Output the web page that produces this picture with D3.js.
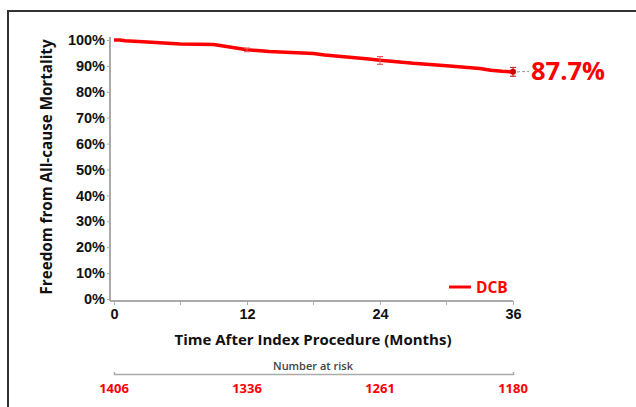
<!DOCTYPE html>
<html>
<head>
<meta charset="utf-8">
<script src="https://cdn.jsdelivr.net/npm/d3@7"></script>
<style>
    body { margin: 0; background: #fff; }
    svg { display: block; font-family: "Open Sans", "DejaVu Sans", sans-serif; }
</style>
</head>
<body>
<svg id="chart" width="636" height="407"></svg>
<script>
// KM estimate, months vs freedom from all-cause mortality (%)
let months = [0, 0.5, 1, 3, 6, 9, 12, 14, 16, 18, 19, 21, 23, 24, 27, 30, 33, 34, 35, 36];
let survival = [100, 100, 99.7, 99.2, 98.5, 98.3, 96.2, 95.6, 95.2, 94.8, 94.2, 93.4, 92.7, 92.2, 91.0, 90.1, 89.0, 88.3, 87.9, 87.7];

// error bars at landmark time points
let ciMonths = [12, 24, 36];
let ciLow = [95.5, 90.6, 86.0];
let ciHigh = [96.9, 93.6, 89.4];

let xTicks = [0, 12, 24, 36];
let xMinorTicks = [6, 18, 30];
let yTicks = [0, 10, 20, 30, 40, 50, 60, 70, 80, 90, 100];

let riskMonths = [0, 12, 24, 36];
let atRisk = [1406, 1336, 1261, 1180];

let finalLabel = '87.7%';
let seriesName = 'DCB';

const red = '#ff0000';

const svg = d3.select('#chart');

// outer frame (runs off the right and bottom edges)
svg.append('rect')
    .attr('x', 8).attr('y', 11)
    .attr('width', 700).attr('height', 500)
    .attr('fill', 'none')
    .attr('stroke', '#333')
    .attr('stroke-width', 2);

const x = d3.scaleLinear().domain([0, 36]).range([114, 513]);
const y = d3.scaleLinear().domain([0, 100]).range([299, 40]);

// y axis
const yAxis = svg.append('g')
    .attr('transform', 'translate(110,0)')
    .call(d3.axisLeft(y).tickValues(yTicks).tickSize(3).tickFormat(d => d + '%'));
yAxis.select('.domain').attr('stroke', '#aaa').attr('stroke-width', 2)
    .attr('d', 'M0,37V301');
yAxis.selectAll('.tick line').attr('stroke', '#aaa');
yAxis.selectAll('.tick text')
    .attr('x', -5)
    .attr('fill', '#111')
    .style('font-size', '14.5px')
    .style('font-weight', 'bold');

// x axis
const xAxis = svg.append('g')
    .attr('transform', 'translate(0,301)')
    .call(d3.axisBottom(x).tickValues(xTicks).tickSize(4).tickFormat(d3.format('d')));
xAxis.select('.domain').attr('stroke', '#aaa').attr('stroke-width', 2)
    .attr('d', 'M110,0H513');
xAxis.selectAll('.tick line').attr('stroke', '#aaa');
xAxis.selectAll('.tick text')
    .attr('y', 8)
    .attr('fill', '#111')
    .style('font-size', '14.5px')
    .style('font-weight', 'bold');

svg.append('g')
    .selectAll('line')
    .data(xMinorTicks)
    .join('line')
    .attr('x1', d => x(d)).attr('x2', d => x(d))
    .attr('y1', 301).attr('y2', 305)
    .attr('stroke', '#aaa');

// axis titles
svg.append('text')
    .attr('transform', 'translate(52,167) rotate(-90)')
    .attr('text-anchor', 'middle')
    .attr('fill', '#111')
    .style('font-size', '15.2px')
    .style('font-weight', 'bold')
    .text('Freedom from All-cause Mortality');

svg.append('text')
    .attr('x', 313).attr('y', 345)
    .attr('text-anchor', 'middle')
    .attr('fill', '#111')
    .style('font-size', '15px')
    .style('font-weight', 'bold')
    .text('Time After Index Procedure (Months)');

// survival curve
const line = d3.line()
    .x((d, i) => x(months[i]))
    .y(d => y(d));

svg.append('path')
    .datum(survival)
    .attr('d', line)
    .attr('fill', 'none')
    .attr('stroke', red)
    .attr('stroke-width', 3.5)
    .attr('stroke-linejoin', 'round');

// error bars
const ci = svg.append('g')
    .selectAll('g')
    .data(ciMonths)
    .join('g')
    .attr('stroke', (d, i) => i === 2 ? '#c03030' : '#e86060')
    .attr('stroke-width', 1.2);
ci.append('line')
    .attr('x1', d => x(d)).attr('x2', d => x(d))
    .attr('y1', (d, i) => y(ciLow[i])).attr('y2', (d, i) => y(ciHigh[i]));
ci.append('line')
    .attr('x1', d => x(d) - 3).attr('x2', d => x(d) + 3)
    .attr('y1', (d, i) => y(ciLow[i])).attr('y2', (d, i) => y(ciLow[i]));
ci.append('line')
    .attr('x1', d => x(d) - 3).attr('x2', d => x(d) + 3)
    .attr('y1', (d, i) => y(ciHigh[i])).attr('y2', (d, i) => y(ciHigh[i]));

// end marker + leader + label
const lastV = survival[survival.length - 1];
svg.append('circle')
    .attr('cx', x(36)).attr('cy', y(lastV))
    .attr('r', 3)
    .attr('fill', '#d00000');
svg.append('line')
    .attr('x1', x(36) + 4).attr('x2', x(36) + 16)
    .attr('y1', y(lastV)).attr('y2', y(lastV) - 0.5)
    .attr('stroke', '#999')
    .attr('stroke-dasharray', '3,2');
svg.append('text')
    .attr('x', 531).attr('y', y(lastV) + 8.5)
    .attr('fill', red)
    .style('font-size', '25.5px')
    .style('font-weight', 'bold')
    .text(finalLabel);

// legend
svg.append('line')
    .attr('x1', 449).attr('x2', 471)
    .attr('y1', 287).attr('y2', 287)
    .attr('stroke', red)
    .attr('stroke-width', 3);
svg.append('text')
    .attr('x', 476).attr('y', 292.5)
    .attr('fill', red)
    .style('font-size', '15.5px')
    .style('font-weight', 'bold')
    .text(seriesName);

// number at risk table
svg.append('text')
    .attr('x', 313).attr('y', 370)
    .attr('text-anchor', 'middle')
    .attr('fill', '#444')
    .style('font-size', '11px')
    .style('font-weight', '600')
    .text('Number at risk');

const riskAxis = svg.append('g')
    .attr('transform', 'translate(0,374)')
    .call(d3.axisTop(x).tickValues([0, 36]).tickSize(2).tickFormat(''));
riskAxis.select('.domain').attr('stroke', '#aaa').attr('stroke-width', 1.5);
riskAxis.selectAll('.tick line').attr('stroke', '#aaa');

svg.append('g')
    .selectAll('text')
    .data(atRisk)
    .join('text')
    .attr('x', (d, i) => x(riskMonths[i]))
    .attr('y', 393)
    .attr('text-anchor', 'middle')
    .attr('fill', red)
    .style('font-size', '13px')
    .style('font-weight', 'bold')
    .text(d => d);
</script>
</body>
</html>
